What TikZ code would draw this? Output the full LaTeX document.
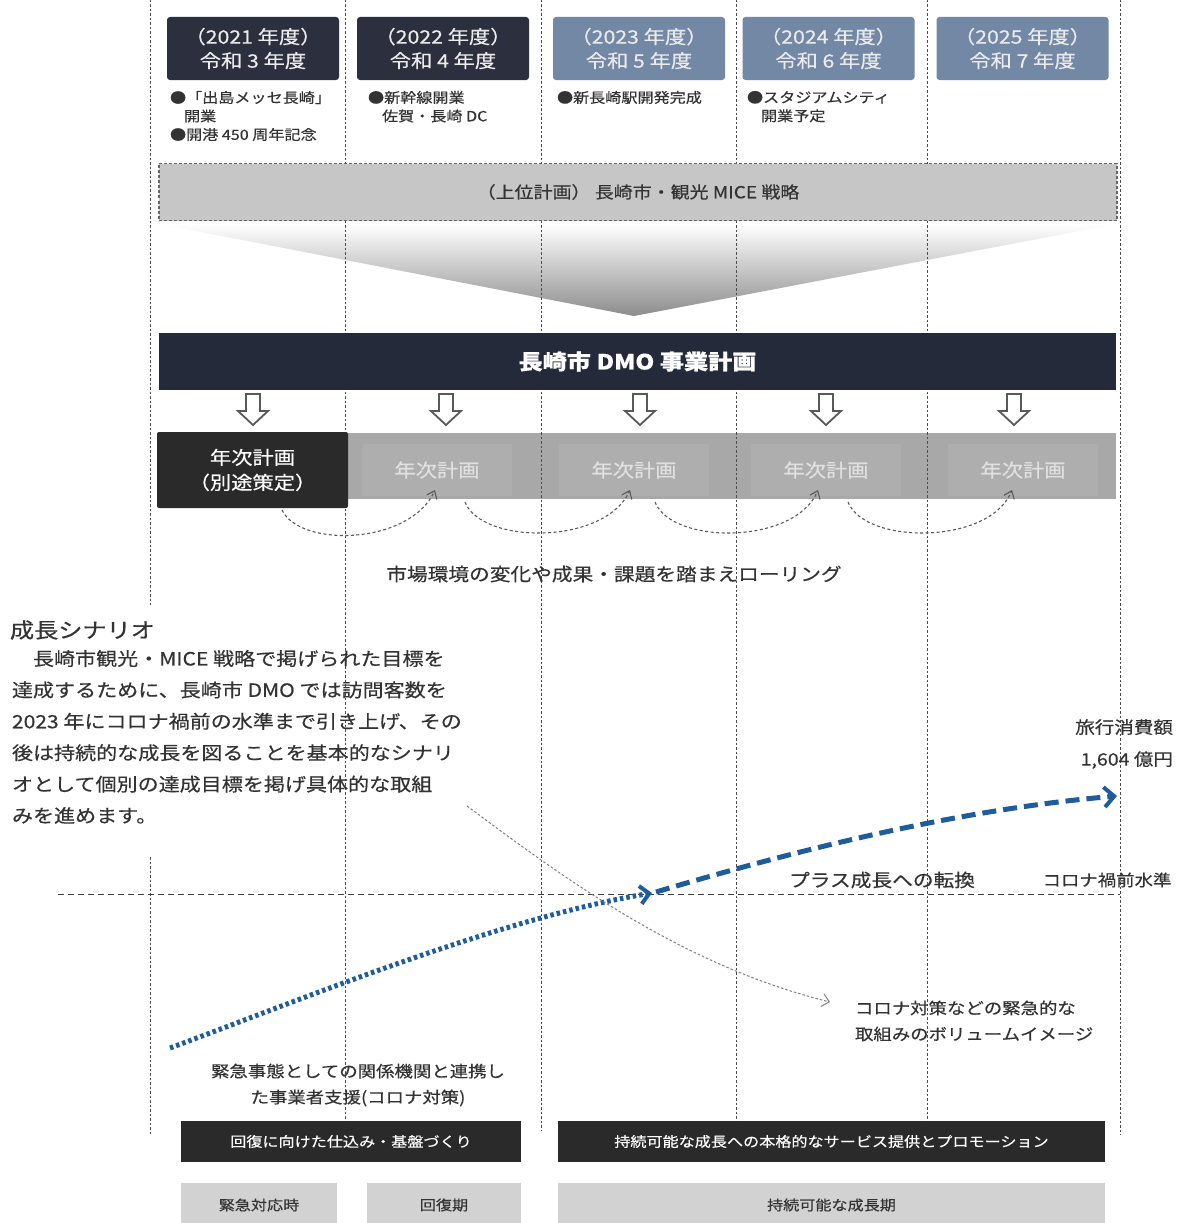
\documentclass[tikz,border=0pt]{standalone}
\usepackage{fontspec}
\setmainfont[FakeStretch=1.15,FakeBold=0.4]{Noto Sans CJK JP}
\usetikzlibrary{arrows.meta}
\definecolor{navy}{HTML}{2B2F3E}
\definecolor{steel}{HTML}{7288A5}
\definecolor{dmo}{HTML}{252A3A}
\definecolor{banner}{HTML}{C6C6C6}
\definecolor{band}{HTML}{A8A8A8}
\definecolor{bandin}{HTML}{AEAEAE}
\definecolor{darkbox}{HTML}{2A2A2A}
\definecolor{lightbox}{HTML}{D2D2D2}
\definecolor{growth}{HTML}{1F5C9C}
\definecolor{txt}{HTML}{333333}
\newcommand{\fs}[2]{\fontsize{#1}{#2}\selectfont}
\tikzset{
  vline/.style={draw=black!70, line width=0.9pt, dash pattern=on 2.5pt off 2pt},
  hline/.style={draw=black!75, line width=1pt, dash pattern=on 6pt off 4pt},
  hdr/.style={rounded corners=3pt, minimum width=172pt, minimum height=63pt, text=white!92!black, align=center, font=\fs{18.5}{24}},
  bullet/.style={anchor=north west, align=left, text=txt, font=\fs{14}{18.5}},
  annual/.style={minimum width=150pt, minimum height=52pt, fill=bandin, text=white!88!black, font=\fs{18.5}{22}},
  roll/.style={draw=black!65, line width=1.1pt, dash pattern=on 3pt off 2.5pt, -{Straight Barb[length=7pt,width=11pt]}},
  downarrow/.style={draw=black!65, line width=1.8pt, fill=white, line join=miter},
  darkbar/.style={fill=darkbox, text=white, minimum height=41pt, font=\fs{14}{18}},
  lightbar/.style={fill=lightbox, text=txt, minimum height=44pt, font=\fs{14}{18}},
  plain/.style={text=txt, inner sep=0pt}
}
\begin{document}
\begin{tikzpicture}[x=1pt,y=-1pt, every node/.style={inner sep=0pt, outer sep=0pt}]
\useasboundingbox (0,0) rectangle (1179,1223);
\fill[white] (0,0) rectangle (1179,1223);

% gradient chevron from upper plan to DMO plan
\shade[top color=white, bottom color=black!45] (160,224) -- (1116,224) -- (634,316) -- cycle;

% annual band (behind the guide lines)
\node[fill=band, minimum width=768pt, minimum height=66pt] (band) at (732,465.5) {};
\node[annual] (y2) at (437,470) {年次計画};
\node[annual] (y3) at (634,470) {年次計画};
\node[annual] (y4) at (826,470) {年次計画};
\node[annual] (y5) at (1023,470) {年次計画};

% vertical guide lines
\coordinate (v1a) at (150,0);   \coordinate (v1b) at (150,605);
\coordinate (v1c) at (150,857); \coordinate (v1d) at (150,1135);
\coordinate (v2a) at (345,0);   \coordinate (v2b) at (345,1135);
\coordinate (v3a) at (541,0);   \coordinate (v3b) at (541,1130);
\coordinate (v4a) at (736,0);   \coordinate (v4b) at (736,1122);
\coordinate (v5a) at (927,0);   \coordinate (v5b) at (927,1122);
\coordinate (v6a) at (1120,0);  \coordinate (v6b) at (1120,1135);
\draw[vline] (v1a) -- (v1b);
\draw[vline] (v1c) -- (v1d);
\draw[vline] (v2a) -- (v2b);
\draw[vline] (v3a) -- (v3b);
\draw[vline] (v4a) -- (v4b);
\draw[vline] (v5a) -- (v5b);
\draw[vline] (v6a) -- (v6b);

% header boxes
\node[hdr, fill=navy]  (h1) at (253,48.5)  {（2021 年度）\\令和 3 年度};
\node[hdr, fill=navy]  (h2) at (443,48.5)  {（2022 年度）\\令和 4 年度};
\node[hdr, fill=steel] (h3) at (639,48.5)  {（2023 年度）\\令和 5 年度};
\node[hdr, fill=steel] (h4) at (828.5,48.5){（2024 年度）\\令和 6 年度};
\node[hdr, fill=steel] (h5) at (1022.5,48.5){（2025 年度）\\令和 7 年度};

% events
\node[bullet] (e1) at (170,91) {●「出島メッセ長崎」\\\hspace*{1em}開業\\●開港 450 周年記念};
\node[bullet] (e2) at (368,91) {●新幹線開業\\\hspace*{1em}佐賀・長崎 DC};
\node[bullet] (e3) at (557,91) {●新長崎駅開発完成};
\node[bullet] (e4) at (747,91) {●スタジアムシティ\\\hspace*{1em}開業予定};

% upper plan banner
\node[fill=banner, draw=black!60, line width=1.2pt, dash pattern=on 3pt off 2pt,
      minimum width=958pt, minimum height=57pt, text=txt, font=\fs{16.5}{20}]
      (upper) at (638,192) {（上位計画） 長崎市・観光 MICE 戦略};

% DMO plan bar
\node[fill=dmo, minimum width=957pt, minimum height=57pt, text=white, font=\bfseries\fs{21}{24}]
      (dmo) at (637.5,361.5) {長崎市 DMO 事業計画};

% hollow down arrows
\foreach \x in {253,446,640,826,1014}{
  \draw[downarrow] ({\x-7},394) -- ({\x+7},394) -- ({\x+7},411) -- ({\x+15},411)
     -- (\x,425) -- ({\x-15},411) -- ({\x-7},411) -- cycle;
}

% first annual plan
\node[fill=darkbox, rounded corners=2pt, minimum width=191pt, minimum height=76pt,
      text=white, align=center, font=\fs{18.5}{25}] (y1) at (252.5,470) {年次計画\\（別途策定）};

% rolling arcs
\coordinate (r1s) at (282,510); \coordinate (r1e) at (435,490);
\coordinate (r2s) at (465,502); \coordinate (r2e) at (630,490);
\coordinate (r3s) at (655,502); \coordinate (r3e) at (818,490);
\coordinate (r4s) at (848,502); \coordinate (r4e) at (1012,490);
\draw[roll] (r1s) .. controls (300,548) and (410,545) .. (r1e);
\draw[roll] (r2s) .. controls (482,545) and (605,545) .. (r2e);
\draw[roll] (r3s) .. controls (672,545) and (795,545) .. (r3e);
\draw[roll] (r4s) .. controls (865,545) and (990,545) .. (r4e);
\node[plain, font=\fs{18}{20}] (rolling) at (614,574) {市場環境の変化や成果・課題を踏まえローリング};

% growth scenario text
\node[plain, anchor=west, font=\fs{21}{24}] (head) at (10,630) {成長シナリオ};
\node[plain, anchor=north west, align=left, font=\fs{18.3}{31.4}] (para) at (12,650)
 {　長崎市観光・MICE 戦略で掲げられた目標を\\
  達成するために、長崎市 DMO では訪問客数を\\
  2023 年にコロナ禍前の水準まで引き上げ、その\\
  後は持続的な成長を図ることを基本的なシナリ\\
  オとして個別の達成目標を掲げ具体的な取組\\
  みを進めます。};

% pre-corona level line
\coordinate (hl1) at (58,894); \coordinate (hl2) at (1120,894);
\draw[hline] (hl1) -- (hl2);
\node[plain, font=\fs{16}{20}] (pre) at (1107,880) {コロナ禍前水準};
\node[plain, font=\fs{18}{22}] (plus) at (882,880) {プラス成長への転換};
\node[plain, anchor=east, align=right, font=\fs{17}{32}] (goal) at (1173,744) {旅行消費額\\1,604 億円};

% growth curve
\coordinate (g0) at (170,1048);
\coordinate (g1) at (652,893);
\coordinate (g2) at (656,892);
\coordinate (g3) at (1117,796);
\draw[growth, line width=5pt, dash pattern=on 3.5pt off 3pt,
      -{Straight Barb[length=9pt,width=18pt,line width=4pt]}]
      (g0) .. controls (300,1000) and (500,918) .. (g1);
\draw[growth, line width=5pt, dash pattern=on 14pt off 7pt,
      -{Straight Barb[length=10pt,width=20pt,line width=4pt]}]
      (g2) .. controls (780,855) and (950,810) .. (g3);

% volume image pointer
\coordinate (p0) at (467,806);
\coordinate (p1) at (830,1002);
\draw[draw=black!50, line width=1pt, dash pattern=on 2.5pt off 2pt,
      -{Straight Barb[length=7pt,width=13pt]}]
      (p0) .. controls (560,875) and (680,965) .. (p1);
\node[plain, anchor=west, align=left, font=\fs{16}{26}] (vol) at (855,1021)
 {コロナ対策などの緊急的な\\取組みのボリュームイメージ};

% emergency support text
\node[plain, align=center, font=\fs{16}{26}] (emerg) at (358,1085)
 {緊急事態としての関係機関と連携し\\た事業者支援(コロナ対策)};

% bottom bars
\node[darkbar, minimum width=340pt] (b1) at (351,1141.5) {回復に向けた仕込み・基盤づくり};
\node[darkbar, minimum width=547pt] (b2) at (831.5,1141.5) {持続可能な成長への本格的なサービス提供とプロモーション};
\node[lightbar, minimum width=156pt] (c1) at (259,1205) {緊急対応時};
\node[lightbar, minimum width=154pt] (c2) at (444,1205) {回復期};
\node[lightbar, minimum width=547pt] (c3) at (831.5,1205) {持続可能な成長期};
\end{tikzpicture}
\end{document}
